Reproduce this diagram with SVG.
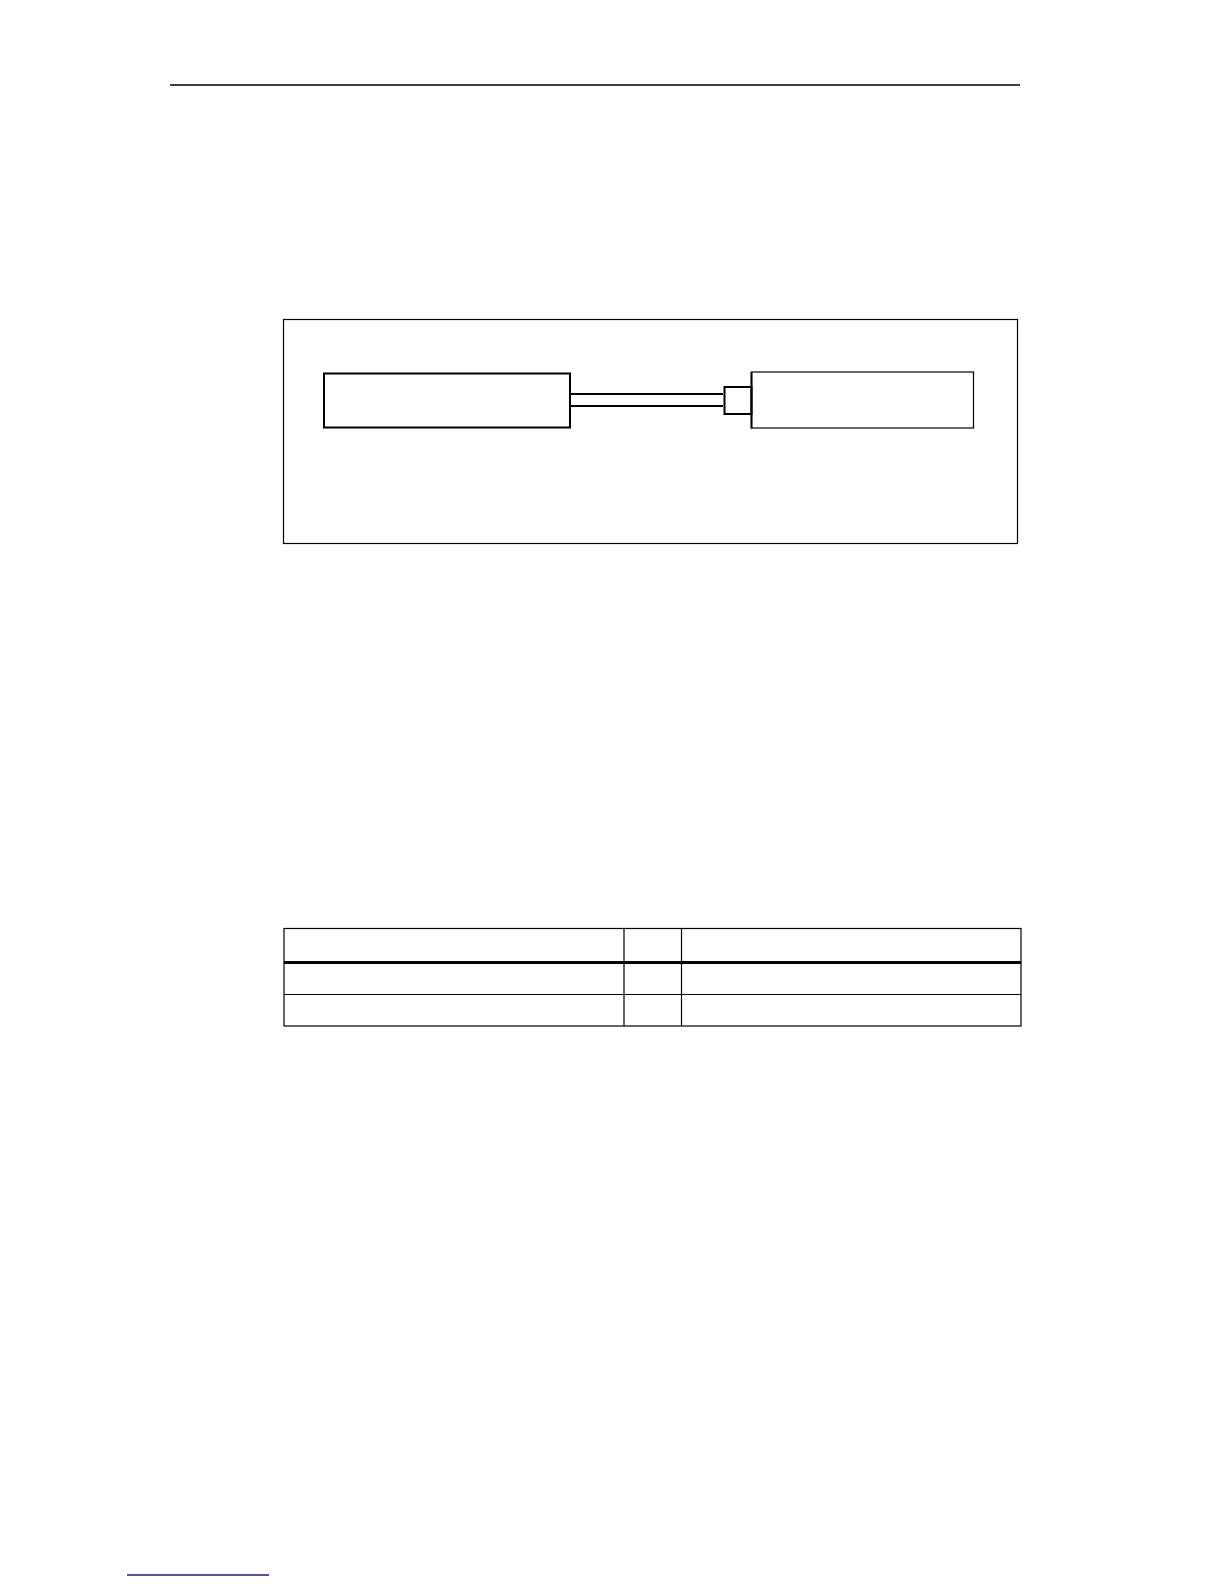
<svg xmlns="http://www.w3.org/2000/svg" width="1224" height="1584" viewBox="0 0 1224 1584">
<style>
.thin{fill:none;stroke:#000;stroke-width:1.2}
.bold{fill:none;stroke:#000;stroke-width:2}
.cell{fill:none;stroke:#000;stroke-width:1.2}
</style>
<rect width="1224" height="1584" fill="#fff"/>
<line x1="170" y1="85" x2="1020" y2="85" stroke="#000" stroke-width="1.3"/>
<g id="frame"><rect class="thin" x="283.5" y="319.5" width="734" height="224"/></g>
<g id="left-unit"><rect class="bold" x="324" y="373.5" width="246" height="54"/></g>
<g id="plug"><rect class="bold" x="724.5" y="387" width="27" height="27"/></g>
<g id="right-unit"><rect class="thin" x="751.5" y="372" width="222" height="56"/><line x1="751.5" y1="372" x2="751.5" y2="428.5" stroke="#000" stroke-width="2"/></g>
<g id="connectors">
<line class="bold" x1="570" y1="394" x2="723" y2="394"/>
<line class="bold" x1="570" y1="406" x2="723" y2="406"/>
</g>
<g id="table">
<rect class="cell" x="284" y="928.5" width="737" height="97.5"/>
<line class="cell" x1="624" y1="928.5" x2="624" y2="1026"/>
<line class="cell" x1="681.5" y1="928.5" x2="681.5" y2="1026"/>
<line x1="284" y1="962.5" x2="1021" y2="962.5" stroke="#000" stroke-width="3"/>
<line class="cell" x1="284" y1="994.5" x2="1021" y2="994.5"/>
</g>
<line x1="127" y1="1575" x2="269" y2="1575" stroke="#1a1a80" stroke-width="1.3"/>
</svg>
